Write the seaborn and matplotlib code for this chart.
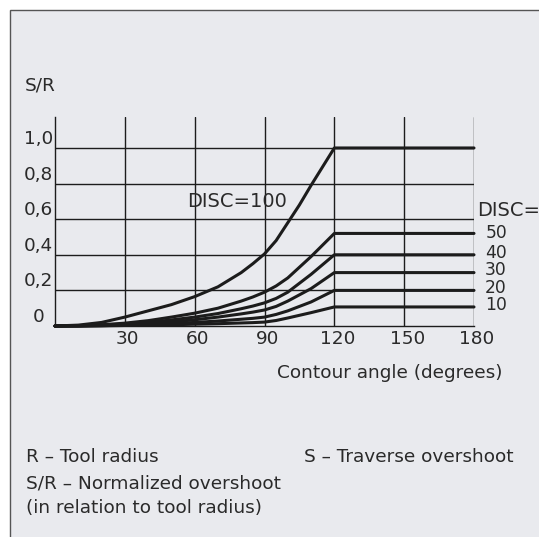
import numpy as np
import pandas as pd
import seaborn as sns
import matplotlib.pyplot as plt
import matplotlib.transforms as mtransforms
from matplotlib.patches import Rectangle

# values
angles = [0, 10, 20, 30, 40, 50, 60, 70, 80, 85, 90, 95, 100, 105, 110, 120, 180]
disc_100 = [0, 0.005, 0.02, 0.05, 0.085, 0.12, 0.165, 0.22, 0.30, 0.35, 0.405, 0.48, 0.58, 0.68, 0.79, 1.0, 1.0]
disc_50 = [0, 0.002, 0.007, 0.016, 0.03, 0.05, 0.072, 0.10, 0.14, 0.163, 0.19, 0.225, 0.27, 0.33, 0.39, 0.52, 0.52]
disc_40 = [0, 0.001, 0.005, 0.011, 0.02, 0.034, 0.05, 0.07, 0.097, 0.112, 0.13, 0.155, 0.19, 0.24, 0.29, 0.40, 0.40]
disc_30 = [0, 0.001, 0.003, 0.008, 0.014, 0.023, 0.035, 0.05, 0.068, 0.078, 0.09, 0.11, 0.14, 0.175, 0.21, 0.30, 0.30]
disc_20 = [0, 0.0005, 0.002, 0.005, 0.009, 0.014, 0.02, 0.028, 0.038, 0.043, 0.05, 0.065, 0.085, 0.11, 0.135, 0.20, 0.20]
disc_10 = [0, 0, 0.001, 0.003, 0.005, 0.007, 0.01, 0.013, 0.017, 0.019, 0.022, 0.031, 0.045, 0.06, 0.075, 0.107, 0.107]
disc_labels = ['50', '40', '30', '20', '10']
label_y = [0.52, 0.41, 0.315, 0.213, 0.118]
xticks = [30, 60, 90, 120, 150, 180]
yticks = [0, 0.2, 0.4, 0.6, 0.8, 1.0]
ytick_labels = ['0', '0,2', '0,4', '0,6', '0,8', '1,0']

series = {'100': disc_100, '50': disc_50, '40': disc_40,
          '30': disc_30, '20': disc_20, '10': disc_10}
df = pd.concat([pd.DataFrame({'angle': angles, 'sr': v, 'disc': k})
                for k, v in series.items()], ignore_index=True)

sns.set_theme(style='white')
plt.rcParams['font.family'] = ['DejaVu Sans']
fs = 13.3
ink = '#1c1c1c'
txt = '#2a2a2a'

fig = plt.figure(figsize=(5.39, 5.37), dpi=100)
fig.patch.set_facecolor('white')
fig.patches.append(Rectangle((10 / 539, -0.05), 1.1, 1 - 10 / 537 + 0.05,
                             transform=fig.transFigure, facecolor='#e9eaee',
                             edgecolor='#555555', lw=1.0, zorder=-5))

ax = fig.add_axes([55 / 539, 211 / 537, 419 / 539, 209 / 537])
ax.set_facecolor('none')
ax.set_xlim(0, 180)
ax.set_ylim(0, 1.174)

# grid
for x in xticks:
    ax.axvline(x, color=ink, lw=1.0, zorder=1)
for y in yticks[1:]:
    ax.axhline(y, color=ink, lw=1.0, zorder=1)

sns.lineplot(data=df, x='angle', y='sr', hue='disc', palette=[ink] * 6,
             estimator=None, sort=False, legend=False, lw=2.2, ax=ax,
             zorder=3, clip_on=False)

for s in ['top', 'right']:
    ax.spines[s].set_visible(False)
for s in ['left', 'bottom']:
    ax.spines[s].set_color(ink)
    ax.spines[s].set_linewidth(1.0)

ax.set_xlabel('')
ax.set_ylabel('')
ax.set_xticks(xticks)
ax.set_xticklabels([str(x) for x in xticks], fontsize=fs, color=txt)
ax.set_yticks(yticks)
ax.set_yticklabels(ytick_labels, fontsize=fs, color=txt)
ax.tick_params(axis='x', length=0, pad=3)
ax.tick_params(axis='y', length=0, pad=12)
xoff = mtransforms.ScaledTranslation(0.03, 0, fig.dpi_scale_trans)
for lab in ax.get_xticklabels():
    lab.set_transform(lab.get_transform() + xoff)
yoff = mtransforms.ScaledTranslation(0, 0.11, fig.dpi_scale_trans)
for lab in ax.get_yticklabels():
    lab.set_ha('center')
    lab.set_transform(lab.get_transform() + yoff)

ax.text(56.7, 0.70, 'DISC=100', fontsize=14, color=txt, va='center')
ax.text(181.3, 0.65, 'DISC=', fontsize=14, color=txt, va='center')
for lab, y in zip(disc_labels, label_y):
    ax.text(189.5, y, lab, fontsize=12.3, color=txt, va='center', ha='center')

fig.text(25 / 539, 1 - 86 / 537, 'S/R', fontsize=fs, color=txt, va='center')
fig.text(503 / 539, 1 - 373 / 537, 'Contour angle (degrees)', fontsize=fs,
         color=txt, va='center', ha='right')
fig.text(26 / 539, 1 - 457 / 537, 'R \u2013 Tool radius', fontsize=fs,
         color=txt, va='center')
fig.text(304 / 539, 1 - 457 / 537, 'S \u2013 Traverse overshoot', fontsize=fs,
         color=txt, va='center')
fig.text(26 / 539, 1 - 484 / 537, 'S/R \u2013 Normalized overshoot', fontsize=fs,
         color=txt, va='center')
fig.text(26 / 539, 1 - 508 / 537, '(in relation to tool radius)', fontsize=fs,
         color=txt, va='center')

fig.savefig('out.png', dpi=100)
